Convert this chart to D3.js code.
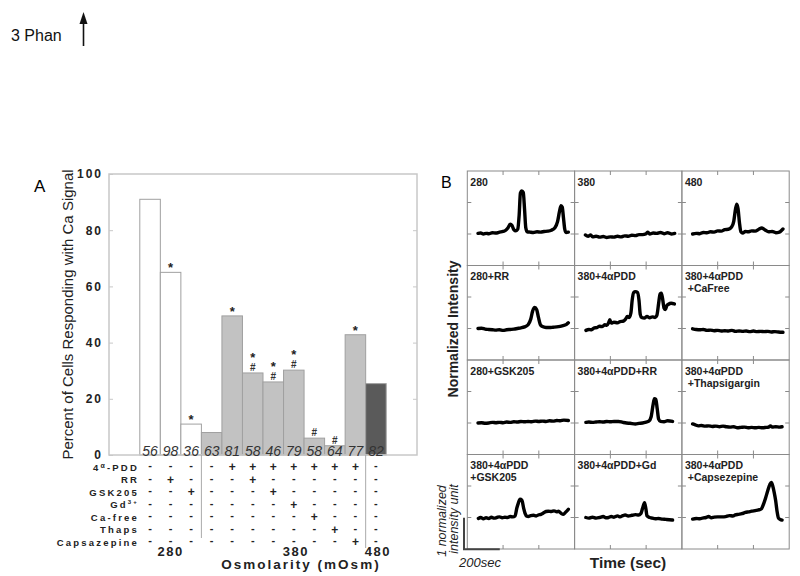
<!DOCTYPE html>
<html>
<head>
<meta charset="utf-8">
<script src="https://d3js.org/d3.v7.min.js"></script>
<style>
  body { margin: 0; background: #fff; }
  svg { font-family: Arial, "Liberation Sans", sans-serif; }
</style>
</head>
<body>
<div id="fig"></div>
<script>
// ---- panel A data ----
var conditions = ["280", "280+RR", "280+GSK205", "380", "380+4aPDD", "380+4aPDD+RR",
    "380+4aPDD+GSK205", "380+4aPDD+Gd", "380+4aPDD+Ca-free", "380+4aPDD+Thaps",
    "380+4aPDD+Capsazepine", "480"];
var percent = [91, 65, 11, 8, 49.5, 29.2, 26, 30.2, 6, 3.3, 42.8, 25.4];
var cellCounts = [56, 98, 36, 63, 81, 58, 46, 79, 58, 64, 77, 82];
var barKind = ["open", "open", "open", "gray", "gray", "gray", "gray", "gray", "gray", "gray", "gray", "dark"];
var stars = [0, 1, 1, 0, 1, 1, 1, 1, 0, 0, 1, 0];
var hashes = [0, 0, 0, 0, 0, 1, 1, 1, 1, 1, 0, 0];
var yTicks = [0, 20, 40, 60, 80, 100];
var treatments = ["4α-PDD", "RR", "GSK205", "Gd3+", "Ca-free", "Thaps", "Capsazepine"];
var treatmentSigns = [
    "----+++++++-",
    "-+---+------",
    "--+---+-----",
    "-------+----",
    "--------+---",
    "---------+--",
    "----------+-"
];
var osmLabels = ["280", "380", "480"];

// ---- panel B data (time in sec, normalized intensity) ----
var traceLabels = [
    ["280"], ["380"], ["480"],
    ["280+RR"], ["380+4αPDD"], ["380+4αPDD", " +CaFree"],
    ["280+GSK205"], ["380+4αPDD+RR"], ["380+4αPDD", " +Thapsigargin"],
    ["380+4αPDD", "+GSK205"], ["380+4αPDD+Gd"], ["380+4αPDD", " +Capsezepine"]
];
var trace280 = [[60,0.02],[75,0.03],[90,0.0],[105,0.02],[120,0.01],[140,0.04],[160,0.03],[180,0.06],[200,0.08],[215,0.12],[228,0.2],[240,0.31],[250,0.27],[260,0.14],[272,0.1],[282,0.15],[290,0.6],[297,1.3],[305,1.37],[313,1.32],[320,0.8],[327,0.2],[335,0.07],[350,0.06],[370,0.05],[390,0.07],[410,0.06],[430,0.08],[450,0.09],[470,0.12],[490,0.2],[505,0.4],[515,0.7],[524,0.9],[531,0.85],[538,0.5],[545,0.15],[552,0.05],[565,0.06]];
var trace380 = [[60,-0.03],[75,-0.07],[90,-0.03],[100,-0.09],[120,-0.07],[140,-0.1],[160,-0.08],[180,-0.11],[200,-0.09],[220,-0.1],[240,-0.07],[260,-0.09],[280,-0.06],[300,-0.07],[320,-0.04],[340,-0.05],[360,-0.02],[380,-0.02],[400,0.01],[410,0.06],[420,0.0],[440,0.03],[460,0.02],[480,0.05],[500,0.01],[520,0.04],[540,0.0],[560,0.02]];
var trace480 = [[60,0.0],[80,0.02],[100,0.01],[120,0.05],[140,0.04],[160,0.07],[180,0.06],[200,0.1],[220,0.09],[240,0.14],[260,0.15],[278,0.22],[290,0.4],[300,0.8],[307,0.95],[314,0.8],[322,0.35],[330,0.07],[340,0.03],[355,0.08],[370,0.07],[390,0.1],[410,0.09],[430,0.15],[447,0.19],[465,0.13],[485,0.07],[505,0.08],[525,0.04],[545,0.06],[558,0.12],[565,0.16]];
var traceRR = [[60,0.0],[80,0.01],[100,-0.02],[120,-0.03],[140,-0.04],[160,-0.05],[180,-0.04],[200,-0.06],[220,-0.04],[240,-0.03],[260,-0.02],[280,0.0],[300,0.02],[320,0.05],[340,0.12],[355,0.3],[365,0.55],[377,0.67],[388,0.6],[398,0.35],[408,0.13],[420,0.06],[440,0.03],[460,0.03],[480,0.04],[500,0.05],[520,0.07],[540,0.1],[555,0.13],[565,0.18]];
var tracePDD = [[63,-0.06],[80,-0.03],[95,-0.04],[110,0.02],[125,0.03],[140,0.07],[155,0.06],[170,0.12],[180,0.1],[190,0.18],[197,0.28],[205,0.17],[220,0.2],[240,0.18],[255,0.22],[270,0.23],[285,0.3],[295,0.38],[305,0.35],[315,0.5],[322,0.9],[330,1.14],[340,1.17],[352,1.14],[360,0.9],[367,0.45],[375,0.35],[390,0.33],[405,0.38],[420,0.34],[435,0.37],[450,0.35],[460,0.42],[470,0.8],[478,1.1],[485,1.12],[492,0.95],[500,0.65],[508,0.6],[515,0.72],[525,0.77],[540,0.8],[558,0.78]];
var traceCaFree = [[60,-0.01],[80,-0.03],[100,-0.04],[120,-0.03],[140,-0.06],[160,-0.05],[180,-0.07],[200,-0.06],[220,-0.08],[240,-0.07],[260,-0.08],[280,-0.06],[300,-0.09],[320,-0.08],[340,-0.09],[360,-0.08],[380,-0.1],[400,-0.08],[420,-0.1],[440,-0.09],[460,-0.1],[480,-0.09],[500,-0.11],[520,-0.1],[540,-0.11],[565,-0.12]];
var traceGSK = [[60,0.0],[80,0.01],[100,-0.01],[120,0.0],[140,0.02],[160,0.01],[180,0.02],[200,0.01],[220,0.03],[240,0.02],[260,0.04],[280,0.03],[300,0.05],[320,0.04],[340,0.05],[360,0.04],[380,0.06],[400,0.05],[420,0.06],[440,0.05],[460,0.07],[480,0.06],[500,0.08],[520,0.07],[540,0.09],[565,0.08]];
var tracePDDRR = [[63,0.02],[80,0.03],[100,0.02],[120,0.03],[140,0.04],[160,0.03],[180,0.05],[200,0.04],[220,0.05],[245,0.05],[270,0.02],[290,0.0],[310,-0.01],[340,-0.03],[360,-0.01],[380,0.0],[400,0.03],[415,0.06],[428,0.2],[438,0.55],[446,0.77],[454,0.75],[462,0.45],[470,0.12],[480,0.05],[500,0.04],[520,0.07],[548,0.05]];
var traceThaps = [[60,-0.03],[75,-0.06],[92,-0.09],[110,-0.08],[130,-0.1],[150,-0.09],[170,-0.11],[190,-0.1],[210,-0.12],[230,-0.1],[250,-0.12],[270,-0.13],[290,-0.12],[310,-0.15],[330,-0.14],[350,-0.13],[370,-0.15],[390,-0.14],[410,-0.15],[430,-0.14],[450,-0.15],[470,-0.14],[485,-0.13],[495,-0.09],[505,-0.13],[525,-0.12],[545,-0.13],[560,-0.12]];
var tracePDDGSK = [[62,-0.03],[75,0.0],[90,-0.04],[105,-0.01],[120,-0.03],[135,0.01],[150,-0.02],[165,0.0],[180,0.02],[195,-0.01],[210,0.01],[225,0.0],[240,0.03],[255,0.02],[267,0.05],[277,0.3],[285,0.45],[295,0.58],[305,0.55],[315,0.3],[323,0.13],[333,0.04],[341,0.03],[355,0.06],[370,0.07],[385,0.05],[397,0.08],[412,0.1],[425,0.14],[440,0.19],[453,0.2],[470,0.19],[485,0.21],[500,0.18],[510,0.2],[525,0.13],[537,0.1],[550,0.17],[565,0.26]];
var tracePDDGd = [[63,0.0],[80,-0.02],[100,0.01],[120,-0.02],[140,0.0],[160,0.03],[175,-0.01],[190,0.0],[205,0.03],[220,0.01],[240,0.05],[255,0.02],[270,0.06],[283,0.08],[300,0.05],[320,0.07],[340,0.09],[358,0.08],[370,0.12],[380,0.29],[391,0.47],[398,0.3],[405,0.05],[420,0.0],[435,-0.02],[451,-0.04],[470,-0.03],[490,-0.05],[510,-0.06],[530,-0.07],[548,-0.08]];
var traceCaps = [[60,-0.05],[80,-0.03],[100,-0.04],[120,-0.01],[135,0.0],[149,0.03],[165,-0.01],[180,0.01],[200,0.02],[224,0.02],[245,0.03],[265,0.06],[285,0.05],[298,0.08],[315,0.1],[335,0.12],[355,0.16],[373,0.18],[390,0.2],[410,0.22],[429,0.24],[445,0.28],[458,0.45],[468,0.62],[480,0.85],[492,1.05],[500,1.11],[508,1.0],[516,0.8],[524,0.55],[532,0.2],[540,-0.02],[550,-0.06],[560,-0.08]];
var traces = [trace280, trace380, trace480, traceRR, tracePDD, traceCaFree,
    traceGSK, tracePDDRR, traceThaps, tracePDDGSK, tracePDDGd, traceCaps];
var timeTicks = [200, 400];
var intensityTicks = [0, 1];

var svg = d3.select("#fig").append("svg")
    .attr("width", 800)
    .attr("height", 576);

// header
svg.append("text").attr("x", 11).attr("y", 41)
    .attr("font-size", 16).attr("fill", "#111").text("3 Phan");
svg.append("line").attr("x1", 83.5).attr("x2", 83.5).attr("y1", 22).attr("y2", 46)
    .attr("stroke", "#111").attr("stroke-width", 1.6);
svg.append("path").attr("d", "M83.5,12 L79.5,24 L87.5,24 Z").attr("fill", "#111");

// ================= Panel A =================
var A = { left: 109, right: 417, top: 174, bottom: 455 };

var x = d3.scaleBand()
    .domain(d3.range(conditions.length))
    .range([A.left, A.right])
    .paddingInner(0)
    .paddingOuter(1.5);

var y = d3.scaleLinear()
    .domain([0, 100])
    .range([A.bottom, A.top]);

var fills = { open: "#ffffff", gray: "#c2c2c2", dark: "#5a5a5a" };

svg.append("text").attr("x", 34).attr("y", 192)
    .attr("font-size", 17).text("A");

// bars
svg.selectAll(".bar")
    .data(percent)
    .enter().append("rect")
    .attr("class", "bar")
    .attr("x", function (d, i) { return x(i); })
    .attr("y", function (d) { return y(d); })
    .attr("width", x.bandwidth())
    .attr("height", function (d) { return y(0) - y(d); })
    .attr("fill", function (d, i) { return fills[barKind[i]]; })
    .attr("stroke", "#a0a0a0")
    .attr("stroke-width", 1);

// frame
svg.append("rect")
    .attr("x", A.left).attr("y", A.top)
    .attr("width", A.right - A.left).attr("height", A.bottom - A.top)
    .attr("fill", "none").attr("stroke", "#c8c8c8").attr("stroke-width", 1.5);

// axes
var yAxis = svg.append("g")
    .attr("transform", "translate(" + A.left + ",0)")
    .call(d3.axisLeft(y).tickValues(yTicks).tickSize(-4).tickPadding(6));
yAxis.select(".domain").remove();
yAxis.selectAll("line").attr("stroke", "#c8c8c8");
yAxis.selectAll("text")
    .attr("font-size", 12).attr("font-weight", "bold")
    .attr("fill", "#222").style("letter-spacing", "2px")
    .attr("font-family", "Arial, sans-serif");

var yAxisR = svg.append("g")
    .attr("transform", "translate(" + A.right + ",0)")
    .call(d3.axisRight(y).tickValues([20, 40, 60, 80]).tickSize(-4).tickFormat(""));
yAxisR.select(".domain").remove();
yAxisR.selectAll("line").attr("stroke", "#c8c8c8");

svg.append("text")
    .attr("transform", "translate(73," + ((A.top + A.bottom) / 2) + ") rotate(-90)")
    .attr("text-anchor", "middle")
    .attr("font-size", 15).attr("fill", "#222")
    .text("Percent of Cells Responding with Ca Signal");

// cell counts inside bars
svg.selectAll(".count")
    .data(cellCounts)
    .enter().append("text")
    .attr("class", "count")
    .attr("x", function (d, i) { return x(i) + x.bandwidth() / 2; })
    .attr("y", A.bottom + 0.5)
    .attr("text-anchor", "middle")
    .attr("font-size", 14).attr("font-style", "italic").attr("fill", "#333")
    .text(function (d) { return d; });

// significance marks
percent.forEach(function (d, i) {
    var cx = x(i) + x.bandwidth() / 2;
    if (hashes[i]) {
        svg.append("text").attr("x", cx).attr("y", y(d) - 2)
            .attr("text-anchor", "middle").attr("font-size", 10).attr("font-weight", "bold").attr("fill", "#333")
            .text("#");
    }
    if (stars[i]) {
        svg.append("text").attr("x", cx).attr("y", y(d) - (hashes[i] ? 11 : 0))
            .attr("text-anchor", "middle").attr("font-size", 13).attr("font-weight", "bold").attr("fill", "#222")
            .text("*");
    }
});

// treatment table
var rowY = d3.scaleLinear().domain([0, 6]).range([467, 542]);
treatments.forEach(function (name, r) {
    var t = svg.append("text")
        .attr("x", 139).attr("y", rowY(r) + 3.5)
        .attr("text-anchor", "end")
        .attr("font-size", 9.5).attr("font-weight", "bold").attr("fill", "#222")
        .style("letter-spacing", "2.2px");
    if (name === "4α-PDD") {
        t.append("tspan").text("4");
        t.append("tspan").attr("font-size", 7).attr("dy", -3).text("α");
        t.append("tspan").attr("dy", 3).text("-PDD");
    } else if (name === "Gd3+") {
        t.append("tspan").text("Gd");
        t.append("tspan").attr("font-size", 6).attr("dy", -4).text("3+");
    } else {
        t.text(name);
    }
    treatmentSigns[r].split("").forEach(function (s, i) {
        svg.append("text")
            .attr("x", x(i) + x.bandwidth() / 2)
            .attr("y", rowY(r) + (s === "+" ? 4 : 2))
            .attr("text-anchor", "middle")
            .attr("font-size", s === "+" ? 12 : 11).attr("font-weight", "bold").attr("fill", "#222")
            .text(s);
    });
});

// osmolarity group separators
svg.append("line").attr("x1", x(3)).attr("x2", x(3)).attr("y1", A.bottom).attr("y2", 538)
    .attr("stroke", "#aaa").attr("stroke-width", 1);
svg.append("line").attr("x1", x(11)).attr("x2", x(11)).attr("y1", A.bottom).attr("y2", 548)
    .attr("stroke", "#aaa").attr("stroke-width", 1);

var osmX = [(x(0) + x(2) + x.bandwidth()) / 2, (x(4) + x(10) + x.bandwidth()) / 2 + 2, x(11) + x.bandwidth() / 2 + 2];
osmLabels.forEach(function (l, i) {
    svg.append("text").attr("x", osmX[i]).attr("y", 556)
        .attr("text-anchor", "middle").attr("font-size", 13).attr("font-weight", "bold")
        .attr("fill", "#222").style("letter-spacing", "1.5px").text(l);
});
svg.append("text").attr("x", 301).attr("y", 569)
    .attr("text-anchor", "middle").attr("font-size", 13.5).attr("font-weight", "bold")
    .attr("fill", "#222").style("letter-spacing", "2px").text("Osmolarity (mOsm)");

// ================= Panel B =================
var B = { left: 467.3, top: 171, cellW: 107.3, cellH: 94.5 };

var tx = d3.scaleLinear().domain([0, 600]).range([0, B.cellW]);
var iy = d3.scaleLinear().domain([-1, 2]).range([B.cellH, 0]);

var line = d3.line()
    .x(function (d) { return tx(d[0]); })
    .y(function (d) { return iy(d[1]); })
    .curve(d3.curveMonotoneX);

svg.append("text").attr("x", 441).attr("y", 188)
    .attr("font-size", 16).text("B");

traces.forEach(function (tr, k) {
    var col = k % 3, row = Math.floor(k / 3);
    var g = svg.append("g")
        .attr("transform", "translate(" + (B.left + col * B.cellW) + "," + (B.top + row * B.cellH) + ")");

    g.append("rect")
        .attr("width", B.cellW).attr("height", B.cellH)
        .attr("fill", "none").attr("stroke", "#8a8a8a").attr("stroke-width", 1);

    // inner ticks
    timeTicks.forEach(function (t) {
        g.append("line").attr("x1", tx(t)).attr("x2", tx(t)).attr("y1", 0).attr("y2", 4).attr("stroke", "#8a8a8a");
        g.append("line").attr("x1", tx(t)).attr("x2", tx(t)).attr("y1", B.cellH - 4).attr("y2", B.cellH).attr("stroke", "#8a8a8a");
    });
    intensityTicks.forEach(function (v) {
        g.append("line").attr("x1", 0).attr("x2", 4).attr("y1", iy(v)).attr("y2", iy(v)).attr("stroke", "#8a8a8a");
        g.append("line").attr("x1", B.cellW - 4).attr("x2", B.cellW).attr("y1", iy(v)).attr("y2", iy(v)).attr("stroke", "#8a8a8a");
    });

    g.append("path")
        .datum(tr)
        .attr("fill", "none")
        .attr("stroke", "#000")
        .attr("stroke-width", 3.4)
        .attr("stroke-linejoin", "round")
        .attr("stroke-linecap", "round")
        .attr("d", line);

    traceLabels[k].forEach(function (l, j) {
        g.append("text")
            .attr("x", 3).attr("y", 14.5 + j * 12.3)
            .attr("font-size", 10.5).attr("font-weight", "bold").attr("fill", "#222")
            .style("white-space", "pre")
            .text(l);
    });
});

svg.append("text")
    .attr("transform", "translate(458,329) rotate(-90)")
    .attr("text-anchor", "middle")
    .attr("font-size", 14).attr("font-weight", "bold").attr("fill", "#222")
    .text("Normalized Intensity");

// scale bar
var sbX = 464, sbY = 549.3;
svg.append("path")
    .attr("d", "M" + sbX + "," + (sbY - (iy(0) - iy(1))) + " L" + sbX + "," + sbY + " L" + (sbX + tx(200)) + "," + sbY)
    .attr("fill", "none").attr("stroke", "#444").attr("stroke-width", 2);
svg.append("text")
    .attr("transform", "translate(446,521) rotate(-90)")
    .attr("text-anchor", "middle").attr("font-size", 12.5).attr("font-style", "italic").attr("fill", "#222")
    .text("1 normalized");
svg.append("text")
    .attr("transform", "translate(457.5,519) rotate(-90)")
    .attr("text-anchor", "middle").attr("font-size", 12.5).attr("font-style", "italic").attr("fill", "#222")
    .text("intensity unit");
svg.append("text").attr("x", 459).attr("y", 567)
    .attr("font-size", 13).attr("font-style", "italic").attr("fill", "#222")
    .text("200sec");

svg.append("text").attr("x", 628).attr("y", 568)
    .attr("text-anchor", "middle").attr("font-size", 15.5).attr("font-weight", "bold").attr("fill", "#222")
    .text("Time (sec)");
</script>
</body>
</html>
